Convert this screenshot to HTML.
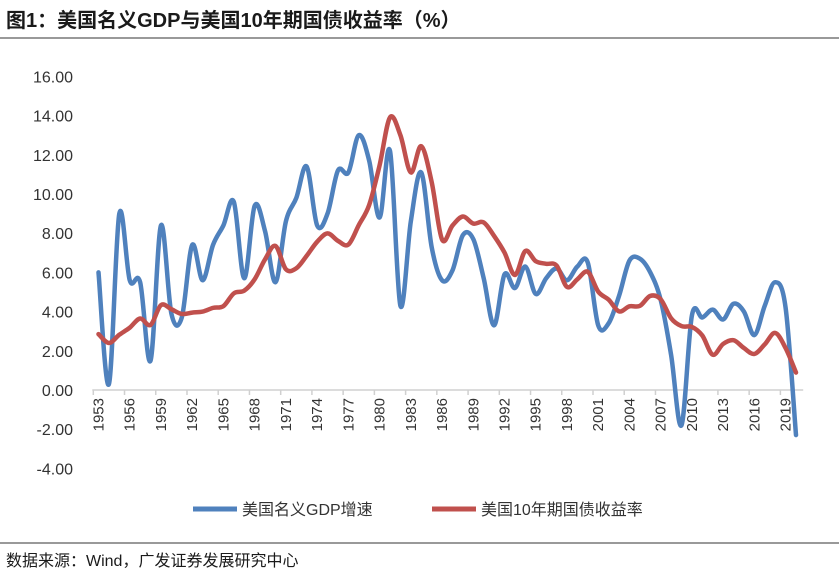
<!DOCTYPE html>
<html><head><meta charset="utf-8"><style>
body{margin:0;background:#fff;width:839px;height:574px;overflow:hidden;font-family:"Liberation Sans","Noto Sans CJK SC",sans-serif}
</style></head><body>
<svg id="c" width="839" height="574" xmlns="http://www.w3.org/2000/svg" font-family="Liberation Sans, Noto Sans CJK SC, sans-serif">
<text x="6" y="27" font-size="20" font-weight="bold" fill="#1a1a1a">图1：美国名义GDP与美国10年期国债收益率（%）</text>
<line x1="0" y1="38" x2="839" y2="38" stroke="#333" stroke-width="1"/>
<line x1="0" y1="543" x2="839" y2="543" stroke="#333" stroke-width="1"/>
<text x="6" y="566" font-size="16" fill="#1a1a1a">数据来源：Wind，广发证券发展研究中心</text>
<g id="plot"></g>
<g>
<line x1="193" y1="509" x2="237" y2="509" stroke="#4F81BD" stroke-width="5"/>
<text x="242" y="515" font-size="16" fill="#333">美国名义GDP增速</text>
<line x1="432" y1="509" x2="476" y2="509" stroke="#C0504D" stroke-width="5"/>
<text x="481" y="515" font-size="16" fill="#333">美国10年期国债收益率</text>
</g>
</svg>
<script>
const years=[];for(let y=1953;y<=2020;y++)years.push(y);
const gdp=[6.0,0.3,9.0,5.6,5.5,1.5,8.4,3.9,3.7,7.4,5.6,7.4,8.4,9.6,5.7,9.4,8.1,5.5,8.6,9.8,11.4,8.4,9.0,11.2,11.1,13.0,11.7,8.8,12.2,4.3,8.6,11.1,7.3,5.6,6.1,7.9,7.7,5.7,3.3,5.9,5.2,6.3,4.9,5.7,6.2,5.6,6.3,6.5,3.3,3.4,4.8,6.6,6.7,6.0,4.6,1.8,-1.8,3.8,3.7,4.1,3.6,4.4,4.0,2.8,4.3,5.5,4.2,-2.3];
const yld=[2.85,2.4,2.82,3.18,3.65,3.32,4.33,4.12,3.88,3.95,4.0,4.19,4.28,4.93,5.07,5.65,6.67,7.35,6.16,6.21,6.85,7.56,7.99,7.61,7.42,8.41,9.44,11.46,13.91,13.0,11.1,12.44,10.62,7.68,8.39,8.85,8.49,8.55,7.86,7.01,5.87,7.09,6.57,6.44,6.35,5.26,5.65,6.03,5.02,4.61,4.01,4.27,4.29,4.8,4.63,3.66,3.26,3.22,2.78,1.80,2.35,2.54,2.14,1.84,2.33,2.91,2.14,0.89];
const yTicks=[-4,-2,0,2,4,6,8,10,12,14,16];
const x0=98.5,dx=(796-98.5)/67;
const xs=i=>x0+i*dx;
const ys=v=>390-v*19.6;
const g=document.getElementById('plot');
const NS='http://www.w3.org/2000/svg';
function mk(t,a){const e=document.createElementNS(NS,t);for(const k in a)e.setAttribute(k,a[k]);g.appendChild(e);return e;}
yTicks.forEach(v=>{
 const t=mk('text',{x:73,y:ys(v)+6,'text-anchor':'end','font-size':16,fill:'#333'});
 
 
 t.textContent=v.toFixed(2);
});
const ax=mk('line',{x1:x0-dx/2-1,y1:ys(0),x2:xs(67)+dx/2+2,y2:ys(0),stroke:'#d0d0d0','stroke-width':1.5});


years.forEach((yr,i)=>{
 if(i%3===0){
  const tk=mk('line',{x1:xs(i)-dx/2,y1:ys(0),x2:xs(i)-dx/2,y2:ys(0)+5,stroke:'#d0d0d0','stroke-width':1.5});
  
  
  const t=mk('text',{transform:`translate(${xs(i)+5},${ys(0)+8}) rotate(-90)`,'text-anchor':'end','font-size':15,fill:'#333'});
  
  
  t.textContent=yr;
 }
});
function path(arr){
 const p=arr.map((v,i)=>[xs(i),ys(v)]);
 let d=`M${p[0][0]},${p[0][1]}`;
 for(let i=0;i<p.length-1;i++){
  const a=p[i-1]||p[i],b=p[i],c=p[i+1],e=p[i+2]||c;
  const c1=[b[0]+(c[0]-a[0])/6,b[1]+(c[1]-a[1])/6],c2=[c[0]-(e[0]-b[0])/6,c[1]-(e[1]-b[1])/6];
  d+=` C${c1[0]},${c1[1]} ${c2[0]},${c2[1]} ${c[0]},${c[1]}`;
 }
 return d;
}
const lg=mk('path',{d:path(gdp),fill:'none',stroke:'#4F81BD','stroke-width':4.5,'stroke-linejoin':'round','stroke-linecap':'round'});


const ly=mk('path',{d:path(yld),fill:'none',stroke:'#C0504D','stroke-width':4.5,'stroke-linejoin':'round','stroke-linecap':'round'});


</script>
</body></html>
